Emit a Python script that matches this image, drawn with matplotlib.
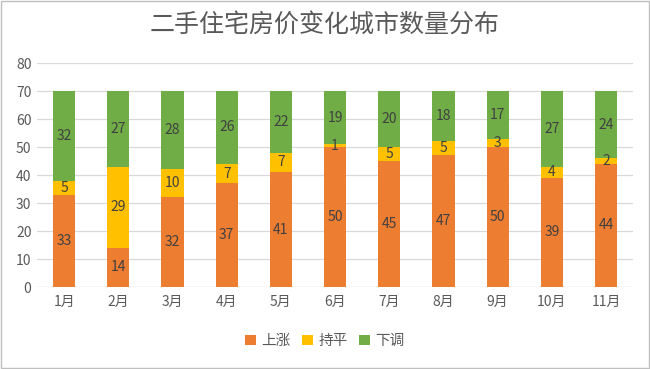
import numpy as np
import matplotlib; matplotlib.use('Agg')
import matplotlib.pyplot as plt
from matplotlib.patches import Rectangle

plt.rcParams['font.family'] = ['Noto Sans CJK SC', 'DejaVu Sans']

months = ['1月', '2月', '3月', '4月', '5月', '6月', '7月', '8月', '9月', '10月', '11月']
up = [33, 14, 32, 37, 41, 50, 45, 47, 50, 39, 44]
flat = [5, 29, 10, 7, 7, 1, 5, 5, 3, 4, 2]
down = [32, 27, 28, 26, 22, 19, 20, 18, 17, 27, 24]
series = [('上涨', up, '#ED7D31'), ('持平', flat, '#FFC000'), ('下调', down, '#70AD47')]

fig = plt.figure(figsize=(6.5, 3.69), dpi=100)
ax = fig.add_axes([0.057, 0.222, 0.917, 0.607])
x = np.arange(len(months))
bottom = np.zeros(len(months))
for name, vals, col in series:
    vals = np.array(vals)
    ax.bar(x, vals, 0.41, bottom=bottom, color=col, label=name, zorder=3)
    for xi, b, v in zip(x, bottom, vals):
        ax.text(xi, b + v / 2, str(v), ha='center', va='center', fontsize=10, color='#404040', zorder=4)
    bottom += vals

ax.set_xlim(-0.5, len(months) - 0.5)
ax.set_ylim(0, 80)
ax.set_yticks(range(0, 81, 10))
ax.set_xticks(x)
ax.set_xticklabels(months)
ax.tick_params(length=0, labelsize=10, colors='#595959')
ax.tick_params(axis='y', pad=4)
ax.tick_params(axis='x', pad=6)
ax.grid(axis='y', color='#D9D9D9', lw=0.9, zorder=0)
for s in ax.spines.values():
    s.set_visible(False)
ax.axhline(0, color='#D9D9D9', lw=0.9, zorder=1)

fig.text(0.5, 0.93, '二手住宅房价变化城市数量分布', ha='center', va='center', fontsize=18, color='#595959')
fig.legend(loc='center', bbox_to_anchor=(0.5, 0.075), ncol=3, frameon=False, fontsize=10.5,
           handlelength=0.7, handleheight=0.7, handletextpad=0.4, columnspacing=0.8,
           labelcolor='#595959')
fig.patches.append(Rectangle((0.001, 0.002), 0.997, 0.995, transform=fig.transFigure,
                             fill=False, edgecolor='#BFBFBF', lw=1))
fig.savefig('out.png', dpi=100)
